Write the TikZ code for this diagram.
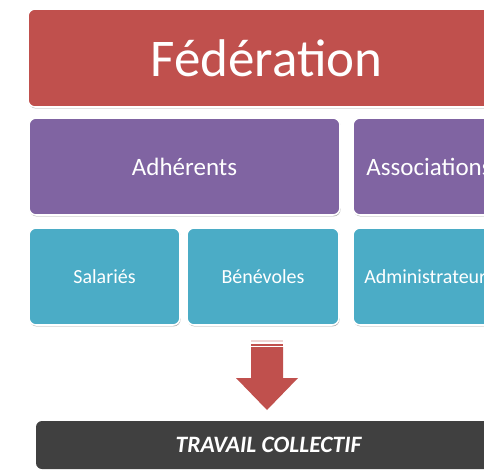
\documentclass[tikz,border=0pt]{standalone}
\usepackage{fontspec}
\setmainfont{Carlito}
\usetikzlibrary{positioning,shadows}

\definecolor{FedRed}{HTML}{C0504D}
\definecolor{GroupPurple}{HTML}{8064A2}
\definecolor{MemberTeal}{HTML}{4BACC6}
\definecolor{WorkGray}{HTML}{404040}

\tikzset{
  orgbox/.style={draw=white, line width=1.6pt, rounded corners=7pt, text=white,
    inner sep=0pt, outer sep=0pt, minimum height=97pt,
    drop shadow={shadow xshift=0.6pt, shadow yshift=-1.4pt, opacity=0.35, fill=black}},
  fedbox/.style={orgbox, fill=FedRed, font=\fontsize{53}{60}\selectfont},
  groupbox/.style={orgbox, fill=GroupPurple, font=\fontsize{25}{30}\selectfont},
  memberbox/.style={orgbox, fill=MemberTeal, minimum width=152pt, font=\fontsize{20}{24}\selectfont},
  workbar/.style={fill=WorkGray, rounded corners=6pt, text=white, inner sep=0pt, outer sep=0pt,
    font=\fontsize{23.5}{28}\selectfont\bfseries\itshape},
}

\begin{document}
\begin{tikzpicture}[x=1pt, y=-1pt]
			\useasboundingbox (0,0) rectangle (484,469);
			\clip (0,0) rectangle (484,469);
			\pgfmathsetmacro{\ShaftHalf}{16}
			\pgfmathsetmacro{\ShaftLength}{31}
			\pgfmathsetmacro{\HeadOver}{15}
			\pgfmathsetmacro{\HeadLength}{32}
			\coordinate(ArrowTop) at (267,347);
			
			\node[fedbox, minimum width=477pt, minimum height=98pt] (fed) at (266.5,58) {Fédération};
			
			\node[groupbox, minimum width=311pt, anchor=north west] (adh) at (29,118) {Adhérents};
			\node[groupbox, minimum width=152pt, right=13pt of adh] (asso) {Associations};
			
			\node[memberbox, minimum width=151pt, anchor=north west] (sal) at (29,228) {Salariés};
			\node[memberbox, right=7pt of sal] (ben) {Bénévoles};
			\node[memberbox, right=14pt of ben] (admin) {Administrateurs};
			
			\fill[FedRed!25] (ArrowTop) ++(-\ShaftHalf,-7) rectangle ++(2*\ShaftHalf,1.5);
			\fill[FedRed] (ArrowTop) ++(-\ShaftHalf,-3.5) rectangle ++(2*\ShaftHalf,2);
			\fill[FedRed] (ArrowTop) ++(-\ShaftHalf,0) -- ++(2*\ShaftHalf,0) -- ++(0,\ShaftLength)
				-- ++(\HeadOver,0) -- ++(-\ShaftHalf-\HeadOver,\HeadLength)
				-- ++(-\ShaftHalf-\HeadOver,-\HeadLength) -- ++(\HeadOver,0) -- cycle;
			
			\node[workbar, minimum width=465pt, minimum height=48pt, anchor=north west] (work) at (36,421) {TRAVAIL COLLECTIF};
		\end{tikzpicture}
\end{document}
